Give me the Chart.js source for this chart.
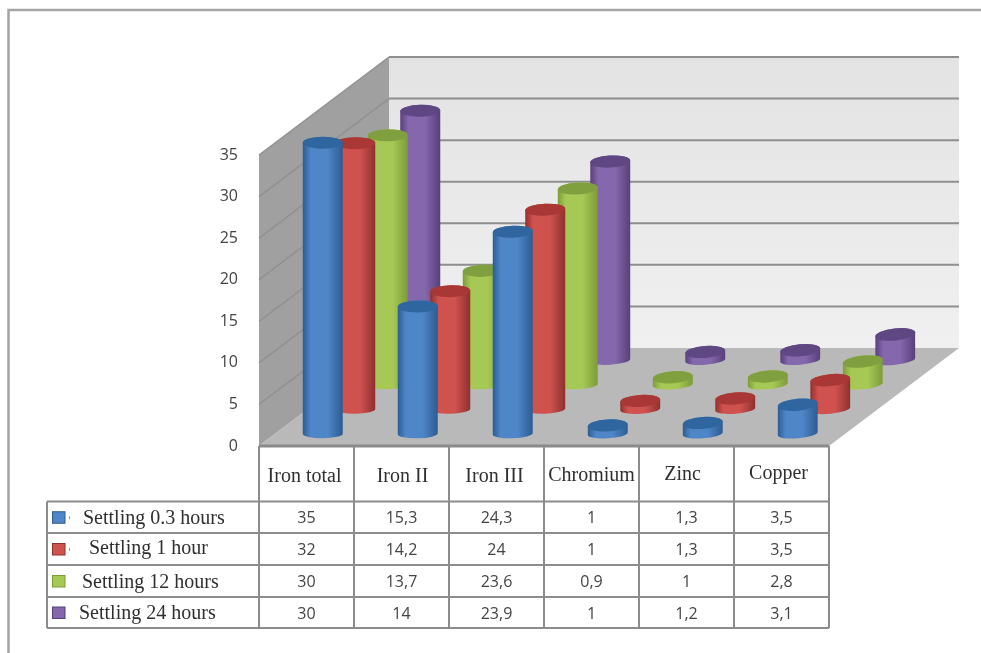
<!DOCTYPE html>
<html>
<head>
<meta charset="utf-8">
<style>
  html, body { margin: 0; padding: 0; background: #fff; }
  #wrap { position: relative; width: 981px; height: 653px; }
  canvas { display: block; }
</style>
<script src="https://cdn.jsdelivr.net/npm/chart.js@4"></script>
</head>
<body>
<div id="wrap"><canvas id="chart" width="981" height="653"></canvas></div>
<script>
const categories = ['Iron total', 'Iron II', 'Iron III', 'Chromium', 'Zinc', 'Copper'];
const seriesNames = ['Settling 0.3 hours', 'Settling 1 hour', 'Settling 12 hours', 'Settling 24 hours'];
const settling03 = [35, 15.3, 24.3, 1, 1.3, 3.5];
const settling1 = [32, 14.2, 24, 1, 1.3, 3.5];
const settling12 = [30, 13.7, 23.6, 0.9, 1, 2.8];
const settling24 = [30, 14, 23.9, 1, 1.2, 3.1];
const yTicks = [0, 5, 10, 15, 20, 25, 30, 35];

// Side, dark edge and cap colours of each series
const palettes = [
  { edge: '#2c5c92', side: '#4f86c8', cap: '#2f669f' },
  { edge: '#8e302e', side: '#d0524f', cap: '#a83735' },
  { edge: '#7c9c38', side: '#a6c955', cap: '#809f3e' },
  { edge: '#57407a', side: '#8567ad', cap: '#5e4782' }
];

// Oblique projection of the 3D box: how far the back wall sits from the front plane
const DEPTH_X = 130;
const DEPTH_Y = 98;
const ROWS = 4;

function drawCylinder(ctx, cx, top, base, rx, pal) {
  const tilt = -(cx - 300) / 600 * 0.11;
  const capRy = 6;
  const baseRy = 4.5;
  const grad = ctx.createLinearGradient(cx - rx, 0, cx + rx, 0);
  grad.addColorStop(0, pal.edge);
  grad.addColorStop(0.2, pal.side);
  grad.addColorStop(0.62, pal.side);
  grad.addColorStop(1, pal.edge);
  ctx.beginPath();
  ctx.ellipse(cx, base, rx, baseRy, tilt, 0, Math.PI);
  ctx.ellipse(cx, top, rx, capRy, tilt, Math.PI, Math.PI * 2);
  ctx.closePath();
  ctx.fillStyle = grad;
  ctx.fill();
  ctx.beginPath();
  ctx.ellipse(cx, top, rx, capRy, tilt, 0, Math.PI * 2);
  ctx.fillStyle = pal.cap;
  ctx.fill();
}

// Bar controller that paints each element as a cylinder standing on its row of the floor
class CylinderController extends Chart.BarController {
  draw() {
    const ctx = this.chart.ctx;
    const row = this.index;
    const dx = DEPTH_X * (row + 0.5) / ROWS;
    const dy = DEPTH_Y * (row + 0.5) / ROWS;
    this.getMeta().data.forEach(bar => {
      drawCylinder(ctx, bar.x + dx, bar.y - dy, bar.base - dy, bar.width / 2, palettes[row]);
    });
  }
}
CylinderController.id = 'cylinder';
CylinderController.defaults = Chart.BarController.defaults;
CylinderController.overrides = Chart.BarController.overrides;
Chart.register(CylinderController);

// Outer frame, walls, floor and gridlines
const boxPlugin = {
  id: 'box',
  beforeDatasetsDraw(chart) {
    const { ctx, chartArea: a, scales: { y } } = chart;
    const front = y.getPixelForValue(0);
    const top = y.getPixelForValue(35);
    ctx.save();

    ctx.strokeStyle = '#a4a4a4';
    ctx.lineWidth = 2.5;
    ctx.beginPath();
    ctx.moveTo(8.5, 653);
    ctx.lineTo(8.5, 10);
    ctx.lineTo(981, 10);
    ctx.stroke();

    const wall = ctx.createLinearGradient(0, top - DEPTH_Y, 0, front - DEPTH_Y);
    wall.addColorStop(0, '#e3e3e3');
    wall.addColorStop(1, '#f0f0f0');
    ctx.fillStyle = wall;
    ctx.fillRect(a.left + DEPTH_X, top - DEPTH_Y, a.right - a.left, front - top);

    ctx.fillStyle = '#a0a0a0';
    ctx.beginPath();
    ctx.moveTo(a.left, top);
    ctx.lineTo(a.left + DEPTH_X, top - DEPTH_Y);
    ctx.lineTo(a.left + DEPTH_X, front - DEPTH_Y);
    ctx.lineTo(a.left, front);
    ctx.closePath();
    ctx.fill();

    ctx.fillStyle = '#b9b9b9';
    ctx.beginPath();
    ctx.moveTo(a.left, front);
    ctx.lineTo(a.left + DEPTH_X, front - DEPTH_Y);
    ctx.lineTo(a.right + DEPTH_X, front - DEPTH_Y);
    ctx.lineTo(a.right, front);
    ctx.closePath();
    ctx.fill();

    yTicks.forEach(v => {
      const py = y.getPixelForValue(v);
      if (v > 0) {
        ctx.strokeStyle = '#919191';
        ctx.lineWidth = 1.5;
        ctx.beginPath();
        ctx.moveTo(a.left, py);
        ctx.lineTo(a.left + DEPTH_X, py - DEPTH_Y);
        ctx.stroke();
        ctx.strokeStyle = '#8e8e8e';
        ctx.lineWidth = 2;
        ctx.beginPath();
        ctx.moveTo(a.left + DEPTH_X, py - DEPTH_Y);
        ctx.lineTo(a.right + DEPTH_X, py - DEPTH_Y);
        ctx.stroke();
      }
    });

    ctx.strokeStyle = '#8a8a8a';
    ctx.lineWidth = 3;
    ctx.beginPath();
    ctx.moveTo(a.left, front);
    ctx.lineTo(a.right, front);
    ctx.stroke();
    ctx.restore();
  }
};

// Data table under the floor: column headers, series keys and the value grid
const tablePlugin = {
  id: 'dataTable',
  afterDraw(chart) {
    const { ctx, chartArea: a, scales: { x } } = chart;
    const rows = [501.5, 533, 565, 597, 628];
    const tableLeft = 47;
    const labelX = [83, 89, 82, 79];
    const labelY = [519, 548.5, 582.5, 613.5];
    const headerShiftX = [-2, 1, -2, 0, -4, -3];
    const headerY = [477, 477, 477, 476, 475, 474];
    const colWidth = x.getPixelForValue(1) - x.getPixelForValue(0);
    ctx.save();
    ctx.strokeStyle = '#8c8c8c';
    ctx.lineWidth = 2;
    rows.forEach(y => {
      ctx.beginPath();
      ctx.moveTo(tableLeft, y);
      ctx.lineTo(a.right, y);
      ctx.stroke();
    });
    ctx.beginPath();
    ctx.moveTo(tableLeft, rows[0]);
    ctx.lineTo(tableLeft, rows[4]);
    ctx.stroke();
    for (let c = 0; c <= categories.length; c++) {
      const px = a.left + c * colWidth;
      ctx.beginPath();
      ctx.moveTo(px, a.bottom);
      ctx.lineTo(px, rows[4]);
      ctx.stroke();
    }

    ctx.textBaseline = 'middle';
    ctx.fillStyle = '#2f2f2f';
    ctx.font = '20px "Liberation Serif"';
    ctx.textAlign = 'center';
    categories.forEach((name, c) => {
      ctx.fillText(name, x.getPixelForValue(c) + headerShiftX[c], headerY[c]);
    });

    chart.data.datasets.forEach((dataset, r) => {
      const mid = (rows[r] + rows[r + 1]) / 2;
      ctx.fillStyle = palettes[r].side;
      ctx.strokeStyle = palettes[r].edge;
      ctx.lineWidth = 1;
      ctx.fillRect(52.5, mid - 5.5, 12.5, 11.5);
      ctx.strokeRect(52.5, mid - 5.5, 12.5, 11.5);
      if (r < 2) {
        ctx.fillStyle = '#9a9a9a';
        ctx.fillRect(69, mid - 1, 1, 3);
      }

      ctx.fillStyle = '#2f2f2f';
      ctx.font = '20px "Liberation Serif"';
      ctx.textAlign = 'left';
      ctx.fillText(seriesNames[r], labelX[r], labelY[r]);

      ctx.fillStyle = '#444';
      ctx.font = '16px "Open Sans"';
      ctx.textAlign = 'center';
      dataset.data.forEach((v, c) => {
        ctx.fillText(String(v).replace('.', ','), x.getPixelForValue(c), mid + 1.5);
      });
    });
    ctx.restore();
  }
};

const seriesData = [settling03, settling1, settling12, settling24];

new Chart(document.getElementById('chart'), {
  type: 'cylinder',
  data: {
    labels: categories,
    datasets: seriesNames.map((name, i) => ({
      label: name,
      data: seriesData[i],
      grouped: false,
      barThickness: 40,
      clip: false
    }))
  },
  options: {
    responsive: false,
    animation: false,
    layout: { padding: { top: 155, right: 152, left: 0, bottom: 0 } },
    plugins: { legend: { display: false }, tooltip: { enabled: false } },
    scales: {
      x: {
        grid: { display: false, drawTicks: false },
        border: { display: false },
        ticks: { display: false },
        afterFit(scale) { scale.height = 207; }
      },
      y: {
        min: 0,
        max: 35,
        grid: { display: false, drawTicks: false },
        border: { display: false },
        afterBuildTicks(scale) { scale.ticks = yTicks.map(value => ({ value })); },
        ticks: {
          color: '#444',
          font: { family: 'Open Sans', size: 16 },
          padding: 21
        },
        afterFit(scale) { scale.width = 259; }
      }
    }
  },
  plugins: [boxPlugin, tablePlugin]
});
</script>
</body>
</html>
